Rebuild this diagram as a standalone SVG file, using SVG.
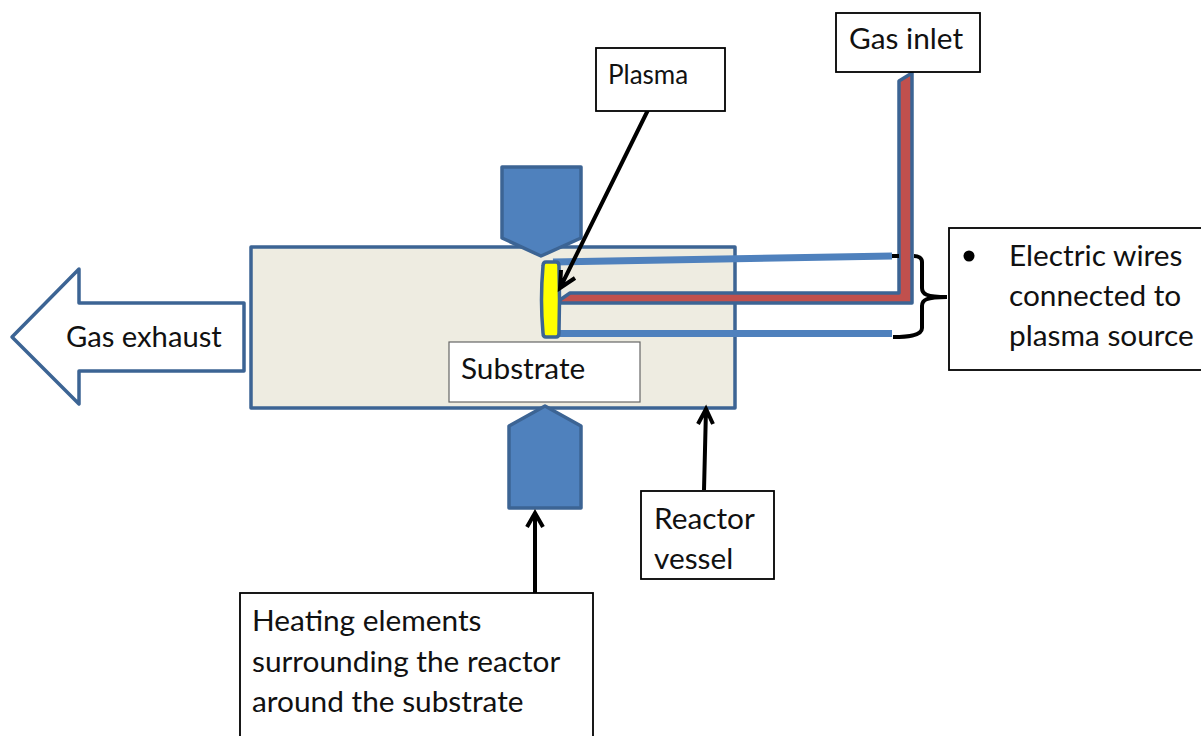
<svg xmlns="http://www.w3.org/2000/svg" width="1201" height="736" viewBox="0 0 1201 736">
<defs>
<style>
text{font-family:"Lato","Open Sans",sans-serif;font-size:29.800px;fill:#111}
.box{fill:#fff;stroke:#000;stroke-width:1.8}
.shape{stroke:#3c6494;stroke-width:3.5;stroke-linejoin:round}
.blue{fill:#4f81bd}
.wire{fill:none;stroke:#4f81bd;stroke-width:7}
.arrow{fill:none;stroke:#000;stroke-width:4}
</style>
</defs>
<rect width="1201" height="736" fill="#fff"/>
<g id="reactor-vessel"><rect x="251" y="247" width="484" height="161" fill="#eeece1" class="shape"/></g>
<g id="heater-top"><polygon class="shape blue" points="502,167 581,167 581,238 541,256 502,238"/></g>
<g id="heater-bottom"><polygon class="shape blue" points="509,426 545,406 581,426 581,508 509,508"/></g>
<g id="gas-exhaust"><polygon points="244,303 79,303 79,269 12,337 79,404 79,371 244,371" fill="#fff" class="shape"/><text x="66" y="347" style="font-size:29.200px">Gas exhaust</text></g>
<g id="connectors">
<polyline class="wire" points="553,262 892,256"/>
<polyline class="wire" points="559,333.500 892,333.500"/>
<path d="M557,302 L570,293 L899,293 L899,81 L912,73 L912,303 L558,303 Z" fill="#c0504d" class="shape"/>
<path d="M892,256 L899,256" class="arrow"/>
<path d="M893,337 C906,337 922,336 922,328 L922,306 C922,300 926,297 947,297 C926,297 922,294 922,288 L922,262 C922,258 918,256 914,256" fill="none" stroke="#000" stroke-width="4"/>
</g>
<g id="plasma-disc"><path d="M546,262 L556,262 Q559,262 559,266 Q560,300 559,333 Q559,337 556,337 L546,337 Q543,337 543,333 Q540,300 543,266 Q543,262 546,262 Z" fill="#ffff00" class="shape"/></g>
<g id="leaders">
<path d="M648,110 L560,288 M561,270 L560,288 L575,278" class="arrow"/>
<path d="M704,490 L706,409 M698,424 L706,409 L713,424" class="arrow"/>
<path d="M535,593 L535,513 M527,527 L535,513 L543,527" class="arrow"/>
</g>
<g id="substrate"><rect x="449" y="342" width="191" height="60" fill="#fff" stroke="#666" stroke-width="1.2"/><text x="461" y="379">Substrate</text></g>
<g id="plasma-label"><rect class="box" x="596" y="48" width="129" height="63"/><text x="608" y="84" style="font-size:26px">Plasma</text></g>
<g id="gas-inlet-label"><rect class="box" x="836" y="13" width="144" height="59"/><text x="849" y="49">Gas inlet</text></g>
<g id="wires-label"><rect class="box" x="949" y="228" width="260" height="142"/><circle cx="969" cy="256" r="5.500" fill="#000"/><text x="1009" y="266">Electric wires</text><text x="1009" y="306">connected to</text><text x="1009" y="346">plasma source</text></g>
<g id="reactor-label"><rect class="box" x="641" y="491" width="133" height="88"/><text x="654" y="529">Reactor</text><text x="654" y="569">vessel</text></g>
<g id="heating-label"><rect class="box" x="240" y="593" width="353" height="150"/><text x="252" y="631">Heating elements</text><text x="252" y="672">surrounding the reactor</text><text x="252" y="712">around the substrate</text></g>
</svg>
